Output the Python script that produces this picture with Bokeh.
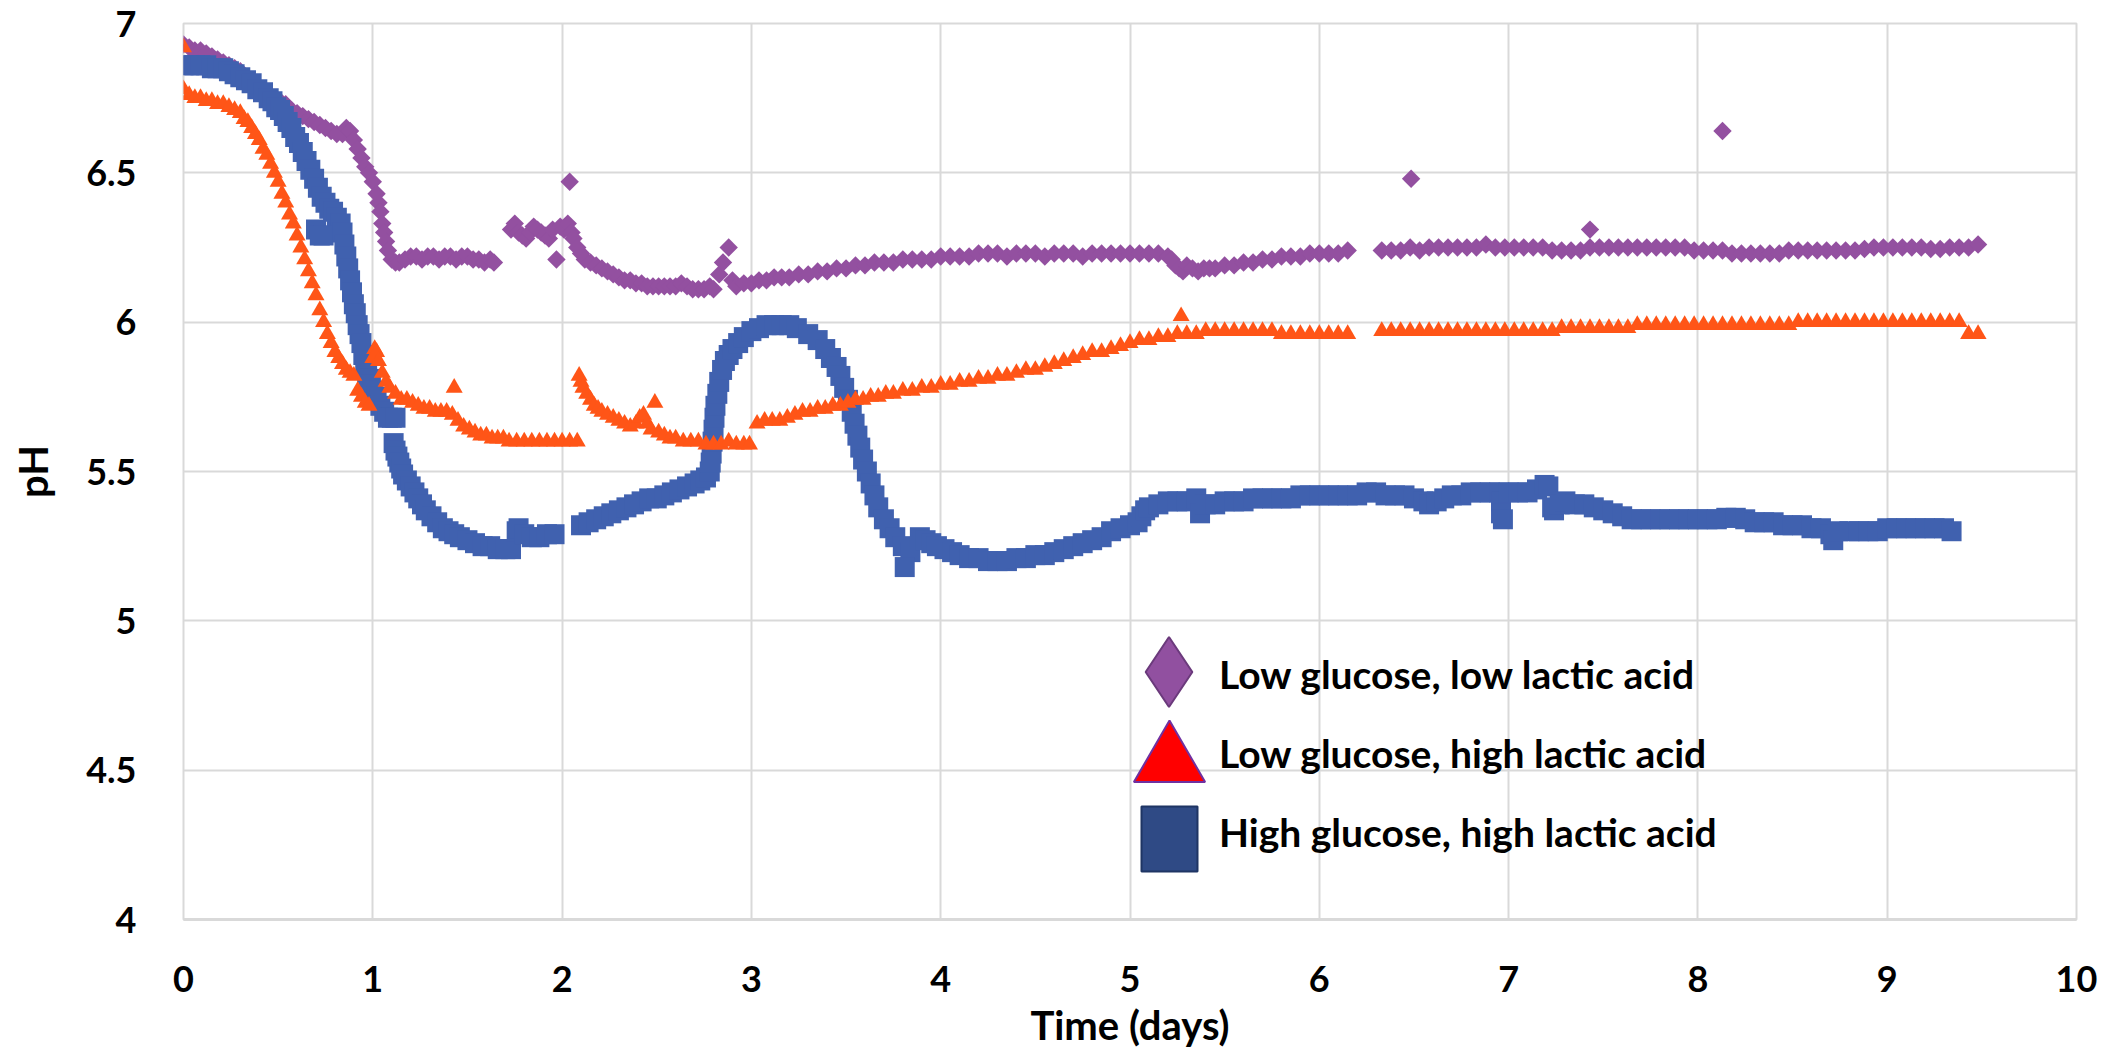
from bokeh.plotting import figure
from bokeh.models import Range1d, FixedTicker, Legend, LegendItem
from bokeh.core.properties import value
from bokeh.embed import file_html
from bokeh.resources import INLINE
import numpy as np

# pH readings (time in days, pH) for the three culture conditions
low_glc_low_lac = [
    (0.00, 6.93), (0.03, 6.92), (0.06, 6.91), (0.09, 6.91), (0.12, 6.90), (0.15, 6.89), (0.18, 6.88),
    (0.21, 6.87), (0.24, 6.86), (0.27, 6.85), (0.30, 6.84), (0.33, 6.82), (0.36, 6.81), (0.39, 6.79),
    (0.42, 6.78), (0.45, 6.76), (0.48, 6.75), (0.51, 6.74), (0.54, 6.73), (0.57, 6.71), (0.60, 6.70),
    (0.63, 6.69), (0.66, 6.68), (0.69, 6.67), (0.72, 6.66), (0.75, 6.65), (0.78, 6.64), (0.81, 6.63),
    (0.84, 6.63), (0.86, 6.65), (0.88, 6.64), (0.90, 6.61), (0.92, 6.58), (0.94, 6.55), (0.96, 6.52),
    (0.98, 6.50), (1.00, 6.47), (1.02, 6.43), (1.03, 6.40), (1.04, 6.37), (1.05, 6.33), (1.06, 6.30),
    (1.07, 6.27), (1.08, 6.24), (1.10, 6.21), (1.12, 6.20), (1.14, 6.20), (1.17, 6.21), (1.20, 6.22),
    (1.23, 6.22), (1.26, 6.21), (1.29, 6.22), (1.32, 6.22), (1.35, 6.21), (1.38, 6.22), (1.41, 6.22),
    (1.44, 6.21), (1.47, 6.22), (1.50, 6.22), (1.53, 6.21), (1.56, 6.21), (1.59, 6.20), (1.62, 6.21),
    (1.64, 6.20),
    (1.73, 6.31), (1.75, 6.33), (1.77, 6.30), (1.79, 6.29), (1.81, 6.28), (1.83, 6.30), (1.85, 6.32),
    (1.87, 6.31), (1.89, 6.30), (1.91, 6.29), (1.93, 6.28), (1.95, 6.31), (1.97, 6.21), (1.99, 6.32),
    (2.01, 6.31), (2.03, 6.33), (2.04, 6.47), (2.05, 6.30), (2.06, 6.28), (2.08, 6.25), (2.10, 6.23),
    (2.12, 6.21), (2.15, 6.20), (2.18, 6.19), (2.21, 6.18), (2.24, 6.17), (2.27, 6.16), (2.30, 6.15),
    (2.33, 6.14), (2.36, 6.14), (2.39, 6.13), (2.42, 6.13), (2.45, 6.12), (2.48, 6.12), (2.51, 6.12),
    (2.54, 6.12), (2.57, 6.12), (2.60, 6.12), (2.63, 6.13), (2.66, 6.12), (2.69, 6.11), (2.72, 6.11),
    (2.75, 6.11), (2.78, 6.12), (2.80, 6.11), (2.83, 6.16), (2.85, 6.20), (2.88, 6.25), (2.90, 6.14),
    (2.92, 6.12), (2.96, 6.13), (3.00, 6.13), (3.04, 6.14), (3.08, 6.14), (3.12, 6.15), (3.16, 6.15),
    (3.20, 6.15), (3.25, 6.16), (3.30, 6.16), (3.35, 6.17), (3.40, 6.17), (3.45, 6.18), (3.50, 6.18),
    (3.55, 6.19), (3.60, 6.19), (3.65, 6.20), (3.70, 6.20), (3.75, 6.20), (3.80, 6.21), (3.85, 6.21),
    (3.90, 6.21), (3.95, 6.21), (4.00, 6.22), (4.05, 6.22), (4.10, 6.22), (4.15, 6.22), (4.20, 6.23),
    (4.25, 6.23), (4.30, 6.23), (4.35, 6.22), (4.40, 6.23), (4.45, 6.23), (4.50, 6.23), (4.55, 6.22),
    (4.60, 6.23), (4.65, 6.23), (4.70, 6.23), (4.75, 6.22), (4.80, 6.23), (4.85, 6.23), (4.90, 6.23),
    (4.95, 6.23), (5.00, 6.23), (5.05, 6.23), (5.10, 6.23), (5.15, 6.23), (5.20, 6.22), (5.22, 6.21),
    (5.24, 6.19), (5.26, 6.18), (5.28, 6.17), (5.30, 6.19), (5.33, 6.18), (5.36, 6.17), (5.39, 6.18),
    (5.42, 6.18), (5.45, 6.18), (5.50, 6.19), (5.55, 6.19), (5.60, 6.20), (5.65, 6.20), (5.70, 6.21),
    (5.75, 6.21), (5.80, 6.22), (5.85, 6.22), (5.90, 6.22), (5.95, 6.23), (6.00, 6.23), (6.05, 6.23),
    (6.10, 6.23), (6.15, 6.24),
    (6.33, 6.24), (6.38, 6.24), (6.43, 6.24), (6.48, 6.25), (6.485, 6.48), (6.53, 6.24), (6.58, 6.25),
    (6.63, 6.25), (6.68, 6.25), (6.73, 6.25), (6.78, 6.25), (6.83, 6.25), (6.88, 6.26), (6.93, 6.25),
    (6.98, 6.25), (7.03, 6.25), (7.08, 6.25), (7.13, 6.25), (7.18, 6.25), (7.23, 6.24), (7.28, 6.24),
    (7.33, 6.24), (7.38, 6.24), (7.43, 6.31), (7.43, 6.25), (7.48, 6.25), (7.53, 6.25), (7.58, 6.25),
    (7.63, 6.25), (7.68, 6.25), (7.73, 6.25), (7.78, 6.25), (7.83, 6.25), (7.88, 6.25), (7.93, 6.25),
    (7.98, 6.24), (8.03, 6.24), (8.08, 6.24), (8.13, 6.64), (8.13, 6.24), (8.18, 6.23), (8.23, 6.23),
    (8.28, 6.23), (8.33, 6.23), (8.38, 6.23), (8.43, 6.23), (8.48, 6.24), (8.53, 6.24), (8.58, 6.24),
    (8.63, 6.24), (8.68, 6.24), (8.73, 6.24), (8.78, 6.24), (8.83, 6.24), (8.88, 6.245), (8.93, 6.25),
    (8.98, 6.25), (9.03, 6.25), (9.08, 6.25), (9.13, 6.25), (9.18, 6.25), (9.23, 6.245), (9.28, 6.245),
    (9.33, 6.25), (9.38, 6.25), (9.43, 6.25), (9.48, 6.26),
]

low_glc_high_lac = [
    (0.00, 6.92), (0.00, 6.78), (0.03, 6.76), (0.06, 6.75), (0.09, 6.75), (0.12, 6.74), (0.15, 6.74),
    (0.18, 6.73), (0.21, 6.73), (0.24, 6.72), (0.27, 6.71), (0.30, 6.70), (0.32, 6.68), (0.34, 6.67),
    (0.36, 6.65), (0.38, 6.63), (0.40, 6.61), (0.42, 6.58), (0.44, 6.56), (0.46, 6.53), (0.48, 6.50),
    (0.50, 6.47), (0.52, 6.43), (0.54, 6.40), (0.56, 6.36), (0.58, 6.33), (0.60, 6.29), (0.62, 6.25),
    (0.64, 6.21), (0.66, 6.17), (0.68, 6.13), (0.70, 6.09), (0.72, 6.04), (0.74, 6.00), (0.76, 5.96),
    (0.78, 5.93), (0.80, 5.90), (0.82, 5.88), (0.84, 5.86), (0.86, 5.84), (0.88, 5.83), (0.90, 5.82),
    (0.92, 5.77), (0.94, 5.75), (0.96, 5.73), (0.98, 5.72), (1.00, 5.88), (1.01, 5.91), (1.02, 5.90),
    (1.03, 5.87), (1.05, 5.83), (1.07, 5.80), (1.09, 5.78), (1.12, 5.76), (1.15, 5.74), (1.18, 5.74),
    (1.21, 5.73), (1.24, 5.72), (1.27, 5.71), (1.30, 5.71), (1.33, 5.70), (1.36, 5.70), (1.39, 5.70),
    (1.42, 5.69), (1.43, 5.78), (1.45, 5.67), (1.48, 5.65), (1.51, 5.64), (1.54, 5.63), (1.57, 5.62),
    (1.60, 5.62), (1.63, 5.61), (1.66, 5.61), (1.69, 5.61), (1.72, 5.60), (1.76, 5.60), (1.80, 5.60),
    (1.84, 5.60), (1.88, 5.60), (1.92, 5.60), (1.96, 5.60), (2.00, 5.60), (2.04, 5.60), (2.08, 5.60),
    (2.09, 5.82), (2.10, 5.80), (2.11, 5.78), (2.13, 5.76), (2.15, 5.74), (2.17, 5.72), (2.19, 5.71),
    (2.21, 5.70), (2.24, 5.69), (2.27, 5.68), (2.30, 5.67), (2.33, 5.66), (2.36, 5.65), (2.39, 5.66),
    (2.41, 5.68), (2.43, 5.69), (2.45, 5.66), (2.47, 5.64), (2.49, 5.73), (2.51, 5.63), (2.54, 5.62),
    (2.57, 5.61), (2.60, 5.61), (2.64, 5.60), (2.68, 5.60), (2.72, 5.60), (2.76, 5.59), (2.80, 5.59),
    (2.84, 5.59), (2.88, 5.60), (2.92, 5.59), (2.96, 5.59), (2.99, 5.59),
    (3.03, 5.66), (3.07, 5.67), (3.11, 5.67), (3.15, 5.67), (3.19, 5.68), (3.23, 5.69), (3.27, 5.70),
    (3.31, 5.70), (3.35, 5.71), (3.39, 5.71), (3.43, 5.72), (3.47, 5.72), (3.51, 5.73), (3.55, 5.74),
    (3.59, 5.74), (3.63, 5.75), (3.67, 5.75), (3.71, 5.76), (3.75, 5.76), (3.80, 5.77), (3.85, 5.77),
    (3.90, 5.78), (3.95, 5.78), (4.00, 5.79), (4.05, 5.79), (4.10, 5.80), (4.15, 5.80), (4.20, 5.81),
    (4.25, 5.81), (4.30, 5.82), (4.35, 5.82), (4.40, 5.83), (4.45, 5.84), (4.50, 5.84), (4.55, 5.85),
    (4.60, 5.86), (4.65, 5.87), (4.70, 5.88), (4.75, 5.89), (4.80, 5.90), (4.85, 5.90), (4.90, 5.91),
    (4.95, 5.92), (5.00, 5.93), (5.05, 5.94), (5.10, 5.94), (5.15, 5.95), (5.20, 5.95), (5.25, 5.96),
    (5.27, 6.02), (5.30, 5.96), (5.35, 5.96), (5.40, 5.97), (5.45, 5.97), (5.50, 5.97), (5.55, 5.97),
    (5.60, 5.97), (5.65, 5.97), (5.70, 5.97), (5.75, 5.97), (5.80, 5.96), (5.85, 5.96), (5.90, 5.96),
    (5.95, 5.96), (6.00, 5.96), (6.05, 5.96), (6.10, 5.96), (6.15, 5.96),
    (6.33, 5.97), (6.38, 5.97), (6.43, 5.97), (6.48, 5.97), (6.53, 5.97), (6.58, 5.97), (6.63, 5.97),
    (6.68, 5.97), (6.73, 5.97), (6.78, 5.97), (6.83, 5.97), (6.88, 5.97), (6.93, 5.97), (6.98, 5.97),
    (7.03, 5.97), (7.08, 5.97), (7.13, 5.97), (7.18, 5.97), (7.23, 5.97), (7.28, 5.98), (7.33, 5.98),
    (7.38, 5.98), (7.43, 5.98), (7.48, 5.98), (7.53, 5.98), (7.58, 5.98), (7.63, 5.98), (7.68, 5.99),
    (7.73, 5.99), (7.78, 5.99), (7.83, 5.99), (7.88, 5.99), (7.93, 5.99), (7.98, 5.99), (8.03, 5.99),
    (8.08, 5.99), (8.13, 5.99), (8.18, 5.99), (8.23, 5.99), (8.28, 5.99), (8.33, 5.99), (8.38, 5.99),
    (8.43, 5.99), (8.48, 5.99), (8.53, 6.00), (8.58, 6.00), (8.63, 6.00), (8.68, 6.00), (8.73, 6.00),
    (8.78, 6.00), (8.83, 6.00), (8.88, 6.00), (8.93, 6.00), (8.98, 6.00), (9.03, 6.00), (9.08, 6.00),
    (9.13, 6.00), (9.18, 6.00), (9.23, 6.00), (9.28, 6.00), (9.33, 6.00), (9.38, 6.00), (9.43, 5.96),
    (9.48, 5.96),
]

high_glc_high_lac = [
    (0.00, 6.86), (0.03, 6.86), (0.06, 6.86), (0.09, 6.86), (0.12, 6.86), (0.15, 6.85), (0.18, 6.85),
    (0.21, 6.85), (0.24, 6.84), (0.27, 6.83), (0.30, 6.82), (0.33, 6.81), (0.36, 6.80), (0.39, 6.78),
    (0.42, 6.77), (0.45, 6.75), (0.47, 6.74), (0.49, 6.72), (0.51, 6.71), (0.53, 6.69), (0.55, 6.67),
    (0.57, 6.65), (0.59, 6.62), (0.61, 6.60), (0.63, 6.57), (0.65, 6.54), (0.67, 6.51), (0.69, 6.48),
    (0.71, 6.45), (0.73, 6.42), (0.75, 6.40), (0.77, 6.38), (0.79, 6.37), (0.81, 6.35), (0.83, 6.33),
    (0.70, 6.31), (0.72, 6.29), (0.74, 6.29), (0.84, 6.30), (0.85, 6.26), (0.86, 6.22), (0.87, 6.18),
    (0.88, 6.14), (0.89, 6.10), (0.90, 6.06), (0.91, 6.03), (0.92, 5.99), (0.93, 5.96), (0.94, 5.93),
    (0.95, 5.89), (0.96, 5.86), (0.97, 5.83), (0.98, 5.81), (0.99, 5.79), (1.00, 5.77), (1.02, 5.75),
    (1.04, 5.72), (1.06, 5.70), (1.08, 5.68), (1.10, 5.68), (1.12, 5.68),
    (1.11, 5.595), (1.12, 5.57), (1.13, 5.55), (1.14, 5.53), (1.15, 5.51), (1.16, 5.49), (1.18, 5.47),
    (1.20, 5.45), (1.22, 5.43), (1.24, 5.41), (1.26, 5.39), (1.28, 5.37), (1.31, 5.35), (1.34, 5.33),
    (1.37, 5.31), (1.40, 5.30), (1.43, 5.29), (1.46, 5.28), (1.50, 5.27), (1.54, 5.26), (1.58, 5.25),
    (1.62, 5.25), (1.66, 5.24), (1.70, 5.24), (1.73, 5.24), (1.76, 5.30), (1.77, 5.31), (1.80, 5.29),
    (1.84, 5.28), (1.88, 5.28), (1.92, 5.29), (1.96, 5.29),
    (2.10, 5.32), (2.14, 5.33), (2.18, 5.34), (2.22, 5.35), (2.26, 5.36), (2.30, 5.37), (2.34, 5.38),
    (2.38, 5.39), (2.42, 5.40), (2.46, 5.41), (2.50, 5.41), (2.54, 5.42), (2.58, 5.43), (2.62, 5.44),
    (2.66, 5.45), (2.70, 5.46), (2.73, 5.47), (2.76, 5.48), (2.78, 5.50), (2.785, 5.53), (2.79, 5.56),
    (2.795, 5.60), (2.80, 5.64), (2.805, 5.68), (2.81, 5.72), (2.82, 5.76), (2.83, 5.80), (2.845, 5.84),
    (2.86, 5.87), (2.88, 5.89), (2.90, 5.91), (2.93, 5.93), (2.96, 5.95), (3.00, 5.97), (3.04, 5.98),
    (3.08, 5.99), (3.12, 5.99), (3.16, 5.99), (3.20, 5.99), (3.24, 5.98), (3.30, 5.96), (3.35, 5.94),
    (3.39, 5.91), (3.42, 5.88), (3.45, 5.85), (3.47, 5.82), (3.49, 5.78), (3.51, 5.74), (3.53, 5.70),
    (3.545, 5.66), (3.56, 5.62), (3.575, 5.58), (3.59, 5.54), (3.61, 5.50), (3.63, 5.46), (3.65, 5.42),
    (3.67, 5.38), (3.70, 5.34), (3.73, 5.31), (3.76, 5.28), (3.80, 5.25), (3.84, 5.23), (3.81, 5.18),
    (3.89, 5.28), (3.92, 5.27), (3.95, 5.26), (3.98, 5.25), (4.02, 5.24), (4.06, 5.23), (4.10, 5.22),
    (4.15, 5.21), (4.20, 5.21), (4.25, 5.20), (4.30, 5.20), (4.35, 5.20), (4.40, 5.21), (4.45, 5.21),
    (4.50, 5.22), (4.55, 5.22), (4.60, 5.23), (4.65, 5.24), (4.70, 5.25), (4.75, 5.26), (4.80, 5.27),
    (4.85, 5.28), (4.90, 5.30), (4.95, 5.31), (5.00, 5.32), (5.04, 5.33), (5.06, 5.35), (5.08, 5.37),
    (5.10, 5.38), (5.15, 5.39), (5.20, 5.40), (5.25, 5.40), (5.30, 5.40), (5.35, 5.41), (5.37, 5.36),
    (5.40, 5.39), (5.45, 5.39), (5.50, 5.40), (5.55, 5.40), (5.60, 5.40), (5.65, 5.41), (5.70, 5.41),
    (5.75, 5.41), (5.80, 5.41), (5.85, 5.41), (5.90, 5.42), (5.95, 5.42), (6.00, 5.42), (6.05, 5.42),
    (6.10, 5.42), (6.15, 5.42), (6.20, 5.42), (6.25, 5.43), (6.30, 5.43), (6.35, 5.42), (6.40, 5.42),
    (6.45, 5.42), (6.50, 5.41), (6.55, 5.40), (6.58, 5.39), (6.62, 5.40), (6.66, 5.41), (6.70, 5.42),
    (6.75, 5.42), (6.80, 5.43), (6.85, 5.43), (6.90, 5.43), (6.95, 5.43), (6.96, 5.40), (6.96, 5.36),
    (6.97, 5.34), (7.00, 5.43), (7.05, 5.43), (7.10, 5.43), (7.15, 5.44), (7.19, 5.455), (7.21, 5.45),
    (7.23, 5.38), (7.24, 5.37), (7.27, 5.39), (7.30, 5.40), (7.35, 5.39), (7.40, 5.39), (7.45, 5.38),
    (7.50, 5.37), (7.55, 5.36), (7.60, 5.35), (7.65, 5.34), (7.70, 5.34), (7.75, 5.34), (7.80, 5.34),
    (7.85, 5.34), (7.90, 5.34), (7.95, 5.34), (8.00, 5.34), (8.05, 5.34), (8.10, 5.34), (8.15, 5.345),
    (8.20, 5.345), (8.25, 5.34), (8.30, 5.33), (8.35, 5.33), (8.40, 5.33), (8.45, 5.32), (8.50, 5.32),
    (8.55, 5.32), (8.60, 5.31), (8.65, 5.31), (8.70, 5.29), (8.715, 5.27), (8.74, 5.30), (8.80, 5.30),
    (8.85, 5.30), (8.90, 5.30), (8.95, 5.30), (9.00, 5.31), (9.05, 5.31), (9.10, 5.31), (9.15, 5.31),
    (9.20, 5.31), (9.25, 5.31), (9.30, 5.31), (9.34, 5.30),
]

series_labels = [
    "Low glucose, low lactic acid",
    "Low glucose, high lactic acid",
    "High glucose, high lactic acid",
]

x_ticks = [0, 1, 2, 3, 4, 5, 6, 7, 8, 9, 10]
y_ticks = [4, 4.5, 5, 5.5, 6, 6.5, 7]
y_tick_labels = ["4", "4.5", "5", "5.5", "6", "6.5", "7"]

FONT = "Lato"
GRID = "#D9D9D9"

p = figure(
    width=2118, height=1051,
    x_range=Range1d(0, 10), y_range=Range1d(4, 7),
    output_backend="svg", toolbar_location=None,
    min_border_left=183, min_border_right=42, min_border_top=23, min_border_bottom=131,
    x_axis_label="Time (days)", y_axis_label="pH",
)
p.background_fill_color = "white"
p.border_fill_color = "white"
p.outline_line_color = GRID
p.outline_line_width = 2

for ax in (p.xaxis, p.yaxis):
    ax.major_tick_line_color = None
    ax.minor_tick_line_color = None
    ax.major_label_text_font = FONT
    ax.major_label_text_font_style = "bold"
    ax.major_label_text_font_size = "36px"
    ax.major_label_text_color = "black"
    ax.axis_label_text_font = FONT
    ax.axis_label_text_font_style = "bold"
    ax.axis_label_text_font_size = "40px"
    ax.axis_label_text_color = "black"

p.xaxis.ticker = FixedTicker(ticks=x_ticks)
p.yaxis.ticker = FixedTicker(ticks=y_ticks)
p.yaxis.major_label_overrides = dict(zip(y_ticks, y_tick_labels))
p.xaxis.axis_line_color = GRID
p.xaxis.axis_line_width = 3
p.yaxis.axis_line_color = None
p.xaxis.major_label_standoff = 40
p.yaxis.major_label_standoff = 41
p.xaxis.axis_label_standoff = 6
p.yaxis.axis_label_standoff = 26

p.xgrid.ticker = FixedTicker(ticks=x_ticks)
p.ygrid.ticker = FixedTicker(ticks=y_ticks)
for g in (p.xgrid, p.ygrid):
    g.grid_line_color = GRID
    g.grid_line_width = 2

t1, ph1 = zip(*low_glc_low_lac)
t2, ph2 = zip(*low_glc_high_lac)
t3, ph3 = zip(*high_glc_high_lac)

# data markers
r1 = p.scatter(list(t1), list(ph1), marker="square", angle=np.pi / 4, size=13,
               fill_color="#9350A0", line_color=None)
r3 = p.scatter(list(t3), list(ph3), marker="square", size=20,
               fill_color="#4061AF", line_color=None)
r2 = p.scatter(list(t2), list(ph2), marker="triangle", size=17,
               fill_color="#FF5517", line_color=None)

# legend key glyphs: own styling, hidden from the plot area
key_diamond = p.scatter([t1[0]], [ph1[0]], marker="diamond", fill_color="#9150A0",
                        line_color="#6B3A7C", line_width=2, visible=False)
key_triangle = p.scatter([t2[0]], [ph2[0]], marker="triangle", fill_color="#FF0000",
                         line_color="#7030A0", line_width=2, visible=False)
key_square = p.rect([t3[0]], [ph3[0]], width=0.1, height=0.1, fill_color="#2F4A85",
                    line_color="#1F3564", line_width=2, visible=False)

def add_key(renderer, box_w, box_h, vx, vy):
    leg = Legend(
        items=[LegendItem(label=value(""), renderers=[renderer])],
        location=(vx, vy), glyph_width=box_w, glyph_height=box_h,
        label_standoff=0, label_width=0, padding=0, margin=0, spacing=0,
        border_line_color=None, background_fill_alpha=0,
    )
    p.add_layout(leg)

add_key(key_diamond, 175, 175, 898, 160)
add_key(key_triangle, 178, 178, 897, 69)
add_key(key_square, 70, 81, 951, 40)

# legend texts, one row per series
text_legend = Legend(
    items=[LegendItem(label=value(lbl), renderers=[r]) for lbl, r in zip(series_labels, [r1, r2, r3])],
    location=(1036, 48), glyph_width=0, glyph_height=79,
    label_standoff=0, padding=0, margin=0, spacing=0,
    border_line_color=None, background_fill_alpha=0,
    label_text_font=FONT, label_text_font_style="bold",
    label_text_font_size="39px", label_text_color="black",
)
p.add_layout(text_legend)

html = file_html(p, INLINE, title="pH over time")
with open("out.html", "w") as f:
    f.write(html)
